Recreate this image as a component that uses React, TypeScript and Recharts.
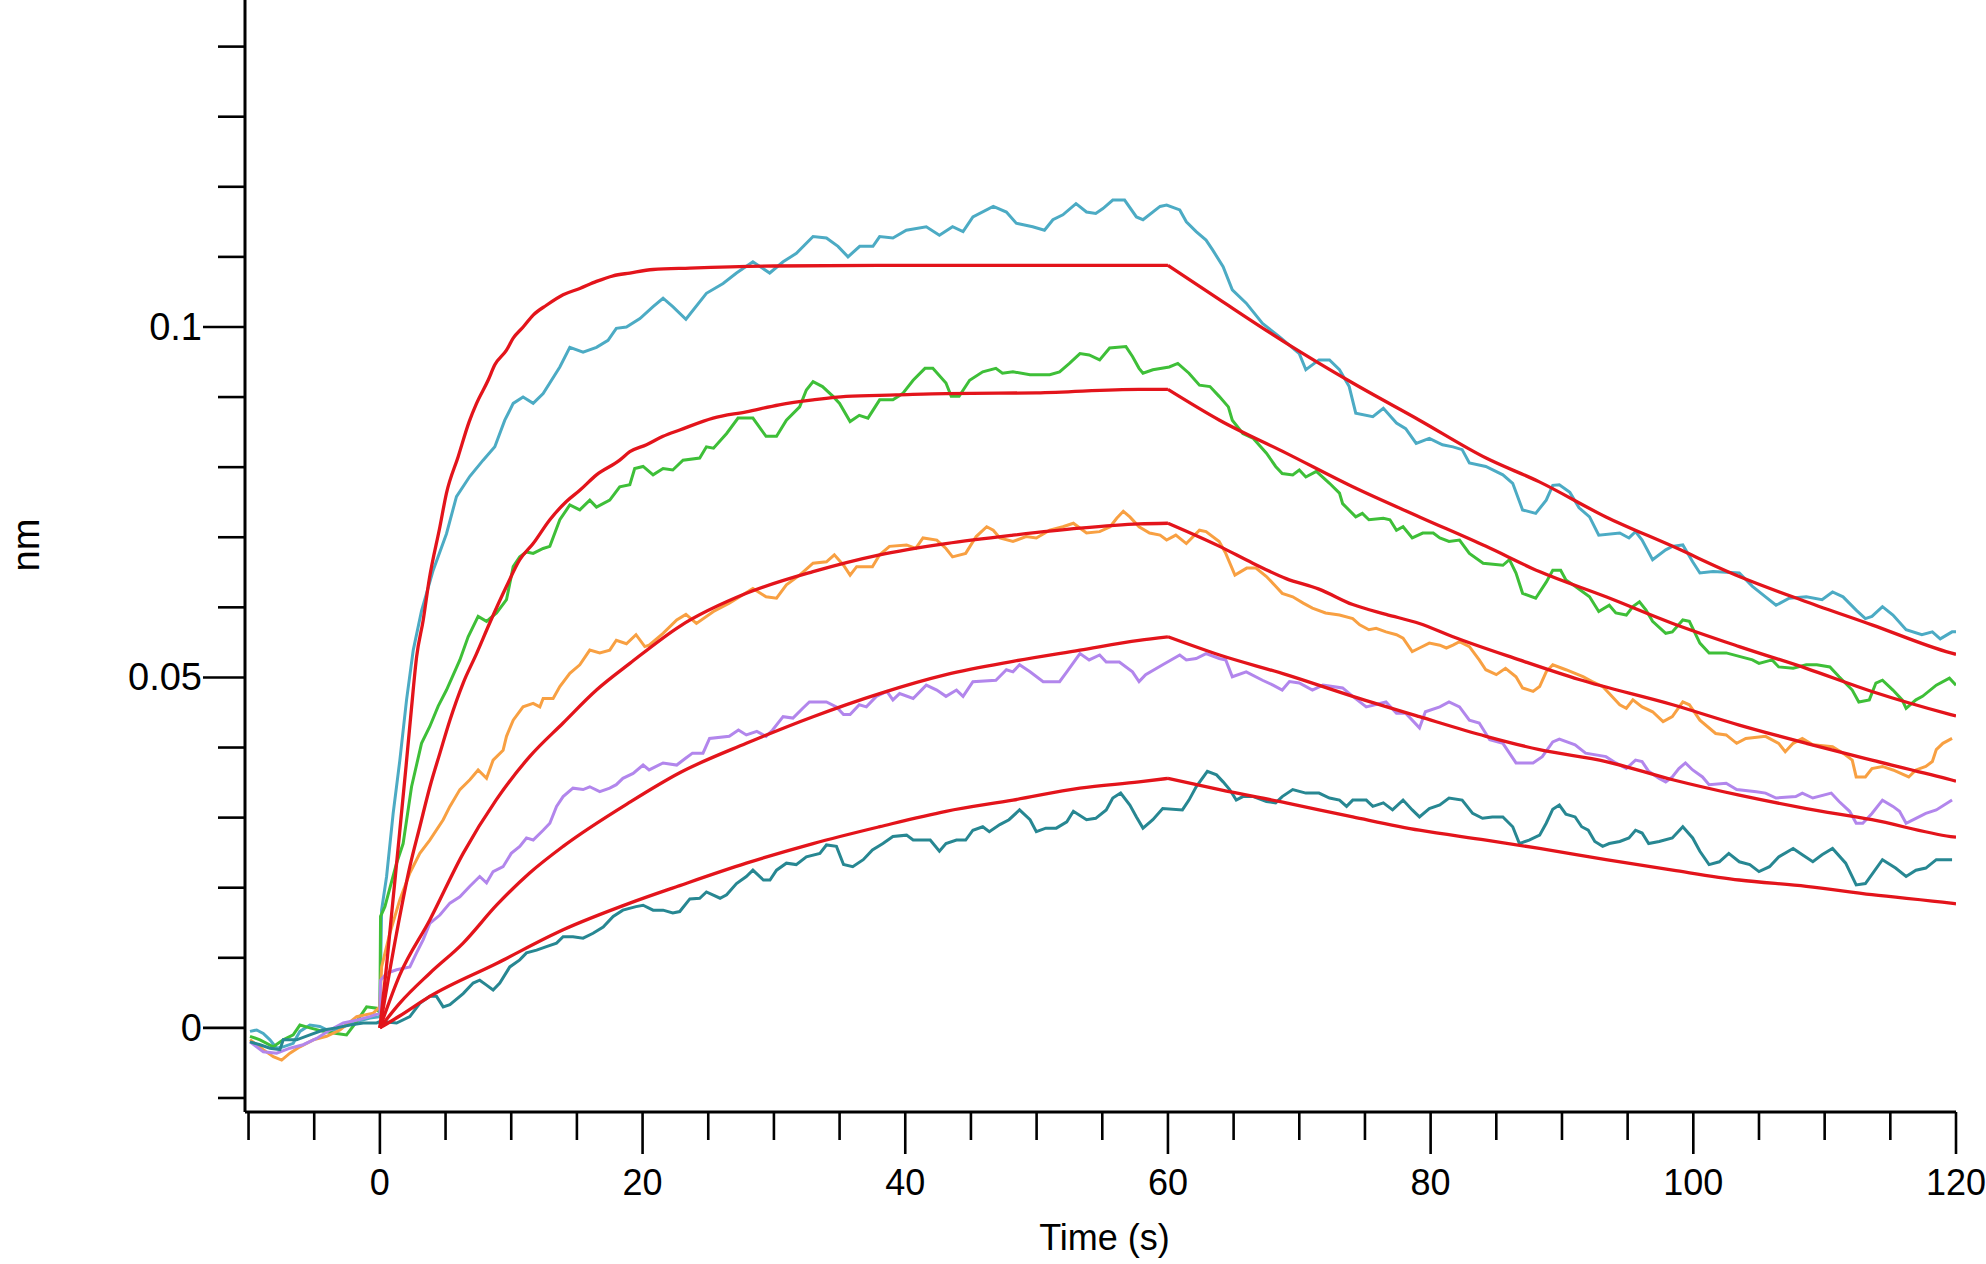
import { LineChart, Line, XAxis, YAxis } from 'recharts';

// time axis (s) and response axis (nm)
const xTicks = [-10, -5, 0, 5, 10, 15, 20, 25, 30, 35, 40, 45, 50, 55, 60, 65, 70, 75, 80, 85, 90, 95, 100, 105, 110, 115, 120];
const yTicks = [-0.01, 0, 0.01, 0.02, 0.03, 0.04, 0.05, 0.06, 0.07, 0.08, 0.09, 0.1, 0.11, 0.12, 0.13, 0.14];
const yLabels: [number, string][] = [[0, '0'], [0.05, '0.05'], [0.1, '0.1']];

// measured sensorgrams, [time, response]
const cyan: [number, number][] = [
  [-9.89, -0.0005], [-9.38, -0.0003], [-8.88, -0.0008], [-8.37, -0.0017], [-7.86, -0.0029], [-7.36, -0.0027], [-6.6, -0.0022],
  [-6.09, -0.0005], [-5.33, 0.0004], [-4.57, 0.0002], [-3.8, -0.0005], [-2.79, 0.0002], [-1.77, 0.0009], [-0.76, 0.0014], [0, 0.0016],
  [0.13, 0.0168], [0.51, 0.0216], [1.01, 0.0306], [1.52, 0.0382], [2.03, 0.0468], [2.54, 0.0539], [3.17, 0.0595], [4.06, 0.0653],
  [5.07, 0.0705], [5.83, 0.0758], [6.85, 0.0787], [7.86, 0.081], [8.75, 0.0829], [9.51, 0.0867], [10.15, 0.0891], [10.9, 0.09],
  [11.67, 0.0891], [12.43, 0.0905], [13.7, 0.0943], [14.46, 0.0971], [15.47, 0.0964], [16.49, 0.0971], [17.37, 0.0981], [18.0, 0.0998],
  [18.77, 0.1], [19.8, 0.1012], [20.8, 0.1029], [21.56, 0.1041], [22.3, 0.1029], [23.3, 0.1011], [24.86, 0.1048], [26.13, 0.1062],
  [27.15, 0.1077], [28.4, 0.1093], [29.68, 0.1077], [30.7, 0.1093], [31.71, 0.1105], [32.98, 0.1129], [34.0, 0.1127], [34.88, 0.1115],
  [35.64, 0.11], [36.53, 0.1115], [37.54, 0.1115], [38.05, 0.1129], [39.06, 0.1127], [40.08, 0.1138], [41.6, 0.1143], [42.6, 0.1131],
  [43.6, 0.1143], [44.4, 0.1136], [45.15, 0.1157], [46.7, 0.1172], [47.7, 0.1164], [48.45, 0.1148], [49.7, 0.1143], [50.6, 0.1138],
  [51.24, 0.1153], [52.0, 0.116], [53.0, 0.1176], [53.8, 0.1164], [54.5, 0.1162], [55.05, 0.1169], [55.8, 0.1181], [56.7, 0.1181],
  [57.6, 0.1157], [58.1, 0.1153], [59.4, 0.1172], [59.9, 0.1174], [60.9, 0.1167], [61.4, 0.115], [62.15, 0.1136], [62.9, 0.1124],
  [63.4, 0.111], [64.2, 0.1086], [64.9, 0.1053], [65.96, 0.1034], [67.2, 0.1005], [68.5, 0.0986], [70.0, 0.0962], [70.5, 0.0939],
  [71.5, 0.0953], [72.3, 0.0953], [73.06, 0.0939], [73.8, 0.0915], [74.3, 0.0877], [75.6, 0.0872], [76.4, 0.0884], [77.4, 0.0863],
  [78.1, 0.0855], [78.9, 0.0834], [79.9, 0.0841], [80.9, 0.0832], [81.7, 0.0829], [82.4, 0.0825], [82.95, 0.0806], [84.2, 0.0801],
  [85.5, 0.0789], [86.25, 0.0777], [87.0, 0.0739], [88.0, 0.0734], [88.8, 0.0753], [89.3, 0.0774], [89.8, 0.0775], [90.6, 0.0764],
  [91.3, 0.0742], [92.1, 0.0729], [92.8, 0.0703], [94.4, 0.0706], [95.1, 0.0699], [95.6, 0.0708], [96.1, 0.0696], [96.9, 0.0668],
  [97.9, 0.0682], [98.4, 0.0687], [99.2, 0.0689], [99.95, 0.0665], [100.5, 0.0649], [101.5, 0.0651], [103.5, 0.0649], [104.5, 0.063],
  [105.5, 0.0615], [106.3, 0.0603], [107.3, 0.0613], [108.6, 0.0615], [109.8, 0.0611], [110.6, 0.0622], [111.4, 0.0615], [112.4, 0.0596],
  [113.1, 0.0584], [113.6, 0.0587], [114.4, 0.0601], [115.2, 0.0589], [116.2, 0.0568], [117.4, 0.0561], [118.2, 0.0565], [118.8, 0.0555],
  [119.7, 0.0565], [120, 0.0565],
];

const green: [number, number][] = [
  [-9.89, -0.0012], [-9.13, -0.0017], [-8.12, -0.0027], [-7.36, -0.0017], [-6.6, -0.001], [-6.09, 0.0004], [-5.33, 0.0], [-4.31, -0.0005],
  [-3.3, -0.0008], [-2.54, -0.001], [-1.77, 0.0009], [-1.01, 0.003], [-0.25, 0.0028], [0, 0.0021],
  [0.05, 0.0159], [0.38, 0.0173], [1.27, 0.0235], [1.77, 0.0263], [2.41, 0.0344], [3.17, 0.0406], [3.8, 0.043], [4.44, 0.0459],
  [5.07, 0.0482], [6.09, 0.0525], [6.72, 0.0558], [7.48, 0.0587], [8.12, 0.058], [8.88, 0.0592], [9.64, 0.0611], [10.15, 0.0658],
  [10.65, 0.0672], [11.16, 0.0679], [11.67, 0.0677], [12.43, 0.0684], [12.94, 0.0687], [13.7, 0.0725], [14.46, 0.0746], [15.22, 0.0739],
  [15.98, 0.0753], [16.49, 0.0743], [17.5, 0.0753], [18.26, 0.0772], [19.03, 0.0775], [19.4, 0.0798], [20.04, 0.0801], [20.8, 0.0789],
  [21.56, 0.0798], [22.3, 0.0796], [23.08, 0.081], [24.35, 0.0813], [24.86, 0.0829], [25.4, 0.0827], [26.4, 0.0848], [27.27, 0.087],
  [28.4, 0.087], [29.4, 0.0844], [30.2, 0.0844], [30.95, 0.0867], [31.96, 0.0886], [32.47, 0.091], [32.98, 0.0922], [33.7, 0.0915],
  [34.5, 0.0901], [35.0, 0.0891], [35.8, 0.0865], [36.5, 0.0874], [37.16, 0.087], [38.05, 0.0896], [39.06, 0.0896], [39.8, 0.0905],
  [40.6, 0.0924], [41.5, 0.0941], [42.1, 0.0941], [43.1, 0.092], [43.5, 0.0901], [44.1, 0.0901], [44.9, 0.0924], [45.9, 0.0936],
  [46.9, 0.0941], [47.4, 0.0934], [48.2, 0.0936], [49.5, 0.0932], [51.0, 0.0932], [51.75, 0.0936], [52.5, 0.0948], [53.3, 0.0962],
  [54.0, 0.096], [54.8, 0.0953], [55.56, 0.097], [56.8, 0.0972], [57.3, 0.0958], [57.8, 0.0941], [58.1, 0.0934], [58.85, 0.0939],
  [60.1, 0.0943], [60.75, 0.0948], [61.6, 0.0934], [62.4, 0.0917], [63.2, 0.0915], [63.9, 0.0901], [64.6, 0.0886], [64.9, 0.0867],
  [65.7, 0.0848], [66.5, 0.0841], [67.5, 0.082], [68.2, 0.0801], [68.7, 0.0791], [69.5, 0.0789], [70.0, 0.0796], [70.5, 0.0786],
  [71.3, 0.0794], [72.3, 0.0777], [73.06, 0.0763], [73.3, 0.0748], [74.3, 0.0729], [74.8, 0.0734], [75.3, 0.0725], [76.4, 0.0727],
  [76.9, 0.0725], [77.4, 0.071], [77.9, 0.0715], [78.6, 0.0699], [79.4, 0.0706], [80.2, 0.0706], [80.7, 0.0699], [81.4, 0.0694],
  [82.2, 0.0696], [82.95, 0.0677], [84.0, 0.0663], [85.5, 0.066], [86.0, 0.0668], [86.5, 0.0649], [87.0, 0.062], [88.0, 0.0613],
  [88.8, 0.0636], [89.3, 0.0653], [89.9, 0.0653], [90.3, 0.0639], [91.0, 0.063], [92.1, 0.0615], [92.8, 0.0594], [93.6, 0.0603],
  [94.1, 0.0592], [94.9, 0.0589], [95.4, 0.0601], [95.9, 0.0608], [96.4, 0.0596], [96.9, 0.058], [97.9, 0.0563], [98.4, 0.0565],
  [99.2, 0.0582], [99.7, 0.058], [100.5, 0.0549], [101.2, 0.0535], [102.5, 0.0535], [103.5, 0.053], [104.5, 0.0525], [105.0, 0.052],
  [106.0, 0.0525], [106.5, 0.0515], [107.6, 0.0513], [108.6, 0.0518], [109.4, 0.0518], [110.4, 0.0515], [111.1, 0.0501], [112.1, 0.0482],
  [112.6, 0.0465], [113.4, 0.0468], [113.9, 0.0492], [114.4, 0.0496], [115.2, 0.0482], [115.9, 0.0468], [116.2, 0.0456], [116.95, 0.0468],
  [117.45, 0.0473], [118.5, 0.0489], [119.5, 0.0499], [120, 0.0489],
];

const orange: [number, number][] = [
  [-9.89, -0.0017], [-8.88, -0.0031], [-8.12, -0.0041], [-7.48, -0.0046], [-6.85, -0.0036], [-6.09, -0.0027], [-5.07, -0.0017],
  [-4.06, -0.0012], [-3.04, -0.0003], [-1.77, 0.0016], [-0.51, 0.0021], [0, 0.003],
  [0.13, 0.0087], [0.76, 0.0135], [1.52, 0.0183], [2.28, 0.0221], [3.04, 0.0249], [3.8, 0.0268], [4.82, 0.0297], [5.33, 0.0316],
  [6.09, 0.034], [6.85, 0.0354], [7.48, 0.0368], [8.12, 0.0356], [8.62, 0.0382], [9.38, 0.0396], [9.64, 0.0416], [10.15, 0.0439],
  [10.9, 0.0458], [11.67, 0.0463], [12.18, 0.0458], [12.43, 0.047], [13.19, 0.047], [13.7, 0.0487], [14.46, 0.0506], [15.22, 0.0518],
  [15.98, 0.0539], [16.74, 0.0535], [17.5, 0.0539], [18.0, 0.0553], [18.77, 0.0548], [19.5, 0.0561], [20.17, 0.0544], [20.5, 0.0546],
  [21.56, 0.0563], [22.6, 0.0582], [23.3, 0.059], [24.1, 0.0577], [25.4, 0.0594], [26.6, 0.0606], [27.4, 0.0615], [28.4, 0.0627],
  [29.4, 0.0615], [30.2, 0.0613], [30.95, 0.0632], [31.96, 0.0646], [32.98, 0.0663], [34.0, 0.0665], [34.6, 0.0675], [35.3, 0.066],
  [35.8, 0.0646], [36.3, 0.0658], [37.5, 0.0658], [38.05, 0.0675], [38.8, 0.0687], [40.1, 0.0689], [40.8, 0.0684], [41.35, 0.0699],
  [42.4, 0.0696], [43.1, 0.0684], [43.6, 0.0672], [44.6, 0.0677], [45.4, 0.0701], [46.2, 0.0715], [46.7, 0.071], [47.2, 0.0699],
  [48.2, 0.0694], [49.2, 0.0701], [49.98, 0.0699], [51.0, 0.071], [52.0, 0.0715], [52.8, 0.072], [53.8, 0.0706], [54.8, 0.0708],
  [55.6, 0.0715], [56.1, 0.0727], [56.6, 0.0737], [57.1, 0.0729], [57.8, 0.0715], [58.6, 0.0706], [59.4, 0.0703], [59.9, 0.0696],
  [60.6, 0.0703], [61.4, 0.0691], [62.4, 0.071], [62.9, 0.0708], [63.9, 0.0694], [64.4, 0.0677], [65.1, 0.0646], [66.0, 0.0656],
  [66.7, 0.0656], [67.5, 0.0644], [68.2, 0.063], [68.7, 0.062], [69.5, 0.0615], [70.3, 0.0606], [71.0, 0.0599], [72.0, 0.0592],
  [73.06, 0.0589], [74.07, 0.0584], [74.6, 0.0575], [75.3, 0.0568], [75.85, 0.057], [76.6, 0.0565], [77.4, 0.0561], [77.9, 0.0556],
  [78.6, 0.0537], [79.15, 0.0542], [79.9, 0.0549], [80.7, 0.0546], [81.2, 0.0542], [81.7, 0.0546], [82.2, 0.0551], [82.95, 0.0544],
  [83.7, 0.0525], [84.2, 0.0511], [85.0, 0.0504], [85.7, 0.0513], [86.5, 0.0501], [87.0, 0.0485], [87.8, 0.048], [88.3, 0.0487],
  [88.8, 0.0508], [89.3, 0.0518], [90.3, 0.0511], [91.6, 0.0501], [92.3, 0.0494], [93.1, 0.0487], [93.6, 0.0477], [94.4, 0.0461],
  [94.9, 0.0456], [95.4, 0.0468], [96.1, 0.0458], [96.9, 0.0451], [97.7, 0.0437], [98.4, 0.0444], [99.2, 0.0465], [99.7, 0.0461],
  [100.5, 0.0439], [101.7, 0.042], [102.5, 0.0418], [103.3, 0.0406], [104.0, 0.0413], [105.5, 0.0416], [106.5, 0.0406], [107.0, 0.0394],
  [107.6, 0.0406], [108.3, 0.0413], [109.1, 0.0404], [110.6, 0.0401], [111.4, 0.0392], [112.1, 0.0382], [112.4, 0.0358], [113.1, 0.0358],
  [113.6, 0.037], [114.4, 0.0373], [115.2, 0.0368], [116.4, 0.0358], [116.95, 0.0368], [117.7, 0.0373], [118.2, 0.038], [118.5, 0.0397],
  [119.0, 0.0406], [119.7, 0.0413],
];

const purple: [number, number][] = [
  [-9.89, -0.002], [-8.88, -0.0034], [-7.86, -0.0036], [-6.85, -0.0029], [-5.84, -0.0024], [-4.82, -0.0015], [-3.8, -0.0003],
  [-2.79, 0.0007], [-1.77, 0.0011], [-0.76, 0.0016], [0, 0.0021],
  [0.05, 0.0068], [0.51, 0.0078], [1.27, 0.0083], [2.28, 0.0087], [2.79, 0.0107], [3.3, 0.0126], [3.8, 0.0149], [4.57, 0.0161],
  [5.33, 0.0178], [6.09, 0.0187], [6.85, 0.0202], [7.6, 0.0216], [8.12, 0.0207], [8.62, 0.0223], [9.38, 0.023], [10.0, 0.0249],
  [10.65, 0.0259], [11.16, 0.0271], [11.67, 0.0268], [12.43, 0.0282], [12.94, 0.0292], [13.45, 0.0316], [13.95, 0.033], [14.7, 0.0342],
  [15.47, 0.034], [15.98, 0.0344], [16.74, 0.0337], [17.5, 0.0342], [18.0, 0.0347], [18.5, 0.0356], [19.28, 0.0363], [20.04, 0.0375],
  [20.5, 0.0368], [21.56, 0.0378], [22.6, 0.0375], [23.3, 0.0385], [23.8, 0.0392], [24.6, 0.0392], [25.1, 0.0413], [26.6, 0.0416],
  [27.3, 0.0425], [27.9, 0.0418], [28.7, 0.0423], [29.4, 0.0416], [29.9, 0.0425], [30.7, 0.0444], [31.45, 0.0442], [32.2, 0.0456],
  [32.7, 0.0465], [34.0, 0.0465], [34.76, 0.0458], [35.3, 0.0447], [35.8, 0.0447], [36.5, 0.0461], [37.04, 0.0458], [37.8, 0.0473],
  [38.6, 0.048], [39.06, 0.0468], [39.57, 0.0477], [40.6, 0.047], [41.6, 0.0489], [42.4, 0.0482], [43.1, 0.0473], [43.9, 0.0482],
  [44.4, 0.0473], [45.15, 0.0494], [46.9, 0.0496], [47.7, 0.0511], [48.2, 0.0508], [48.7, 0.0518], [49.5, 0.0508], [50.5, 0.0494],
  [51.75, 0.0494], [52.3, 0.0508], [53.3, 0.0534], [54.0, 0.0525], [54.8, 0.0532], [55.3, 0.0522], [56.3, 0.0522], [57.3, 0.0508],
  [57.8, 0.0494], [58.3, 0.0504], [59.6, 0.0518], [60.9, 0.0532], [61.4, 0.0525], [62.15, 0.0527], [62.9, 0.0534], [63.9, 0.0527],
  [64.4, 0.0525], [64.9, 0.0501], [65.96, 0.0508], [67.2, 0.0496], [68.0, 0.0489], [68.7, 0.0482], [69.25, 0.0494], [70.0, 0.0492],
  [71.0, 0.0482], [71.8, 0.0489], [73.3, 0.0485], [74.07, 0.0473], [75.1, 0.0458], [76.6, 0.0465], [77.4, 0.0449], [78.1, 0.0449],
  [79.15, 0.0428], [79.6, 0.0451], [80.7, 0.0458], [81.4, 0.0465], [82.2, 0.0458], [82.95, 0.0439], [83.7, 0.0435], [84.5, 0.0411],
  [85.5, 0.0406], [86.5, 0.0378], [87.8, 0.0378], [88.5, 0.0387], [89.3, 0.0408], [89.8, 0.0412], [91.0, 0.0404], [91.8, 0.0392],
  [93.35, 0.0387], [94.1, 0.0378], [94.9, 0.037], [95.6, 0.0382], [96.1, 0.038], [96.6, 0.0366], [97.4, 0.0356], [97.9, 0.0351],
  [98.4, 0.0358], [98.9, 0.037], [99.4, 0.0378], [99.95, 0.0368], [100.7, 0.0358], [101.2, 0.0347], [102.5, 0.0349], [103.3, 0.034],
  [104.8, 0.0337], [105.5, 0.0335], [106.3, 0.0328], [107.8, 0.033], [108.3, 0.0335], [109.1, 0.0328], [110.5, 0.0335], [111.1, 0.0323],
  [111.9, 0.0309], [112.4, 0.0292], [112.9, 0.0292], [113.6, 0.0306], [114.4, 0.0325], [115.2, 0.0316], [115.7, 0.0309], [116.2, 0.0292],
  [116.95, 0.0299], [117.7, 0.0306], [118.5, 0.0311], [119.7, 0.0325],
];

const teal: [number, number][] = [
  [-9.89, -0.002], [-9.13, -0.0024], [-8.37, -0.0029], [-7.61, -0.0031], [-7.36, -0.0017], [-6.34, -0.0017], [-5.33, -0.001],
  [-4.31, -0.0003], [-3.3, 0.0], [-2.28, 0.0004], [-1.27, 0.0007], [-0.25, 0.0007], [0, 0.0009],
  [0.13, 0.0009], [1.27, 0.0007], [2.28, 0.0016], [3.04, 0.0035], [3.8, 0.0045], [4.31, 0.0045], [4.82, 0.003], [5.33, 0.0033],
  [6.34, 0.0049], [7.1, 0.0064], [7.6, 0.0068], [8.12, 0.0061], [8.62, 0.0054], [9.13, 0.0064], [9.89, 0.0087], [10.65, 0.0097],
  [11.16, 0.0107], [11.93, 0.0111], [12.68, 0.0116], [13.45, 0.0121], [13.95, 0.013], [14.7, 0.013], [15.47, 0.0128], [16.23, 0.0135],
  [17.0, 0.0144], [17.76, 0.0159], [18.5, 0.0168], [19.5, 0.0173], [20.04, 0.0175], [20.8, 0.0168], [21.56, 0.0168], [22.3, 0.0164],
  [22.83, 0.0166], [23.6, 0.0184], [24.35, 0.0185], [24.86, 0.0194], [25.9, 0.0185], [26.4, 0.019], [27.15, 0.0206], [27.9, 0.0216],
  [28.4, 0.0225], [29.2, 0.0211], [29.7, 0.0211], [30.2, 0.0225], [30.95, 0.0235], [31.7, 0.0233], [32.47, 0.0244], [33.5, 0.0249],
  [34.0, 0.0261], [34.76, 0.0259], [35.3, 0.0233], [36.0, 0.023], [36.8, 0.024], [37.5, 0.0254], [38.3, 0.0263], [39.06, 0.0273],
  [40.1, 0.0275], [40.6, 0.0268], [41.9, 0.0268], [42.6, 0.0252], [43.1, 0.0263], [43.9, 0.0268], [44.6, 0.0268], [45.15, 0.0282],
  [45.9, 0.0287], [46.4, 0.028], [47.2, 0.029], [47.9, 0.0297], [48.7, 0.0311], [49.5, 0.0297], [49.98, 0.028], [50.7, 0.0285],
  [51.5, 0.0285], [52.3, 0.0294], [52.8, 0.0309], [53.8, 0.0297], [54.5, 0.0299], [55.3, 0.0311], [55.8, 0.0328], [56.4, 0.0335],
  [57.1, 0.0318], [57.6, 0.0301], [58.1, 0.0285], [58.85, 0.0297], [59.6, 0.0313], [61.1, 0.0311], [61.6, 0.0325], [62.15, 0.0344],
  [63.0, 0.0366], [63.7, 0.0361], [64.2, 0.0351], [64.7, 0.034], [65.2, 0.0325], [65.7, 0.033], [66.5, 0.033], [67.5, 0.0323],
  [68.2, 0.0321], [68.7, 0.033], [69.5, 0.034], [70.5, 0.0335], [71.5, 0.0335], [72.3, 0.0328], [73.06, 0.0325], [73.6, 0.0316],
  [74.07, 0.0325], [75.1, 0.0325], [75.6, 0.0316], [76.4, 0.0321], [77.1, 0.0311], [77.9, 0.0325], [78.6, 0.0311], [79.15, 0.0301],
  [79.9, 0.0313], [80.7, 0.0318], [81.4, 0.0328], [82.4, 0.0325], [83.2, 0.0306], [83.95, 0.0299], [84.7, 0.0301], [85.5, 0.0301],
  [86.25, 0.0287], [86.76, 0.0263], [87.5, 0.0268], [88.3, 0.0275], [88.8, 0.0292], [89.3, 0.0312], [89.8, 0.0318], [90.3, 0.0305],
  [91.0, 0.0301], [91.5, 0.0287], [92.0, 0.0282], [92.5, 0.0266], [93.1, 0.0259], [93.6, 0.0263], [94.4, 0.0266], [95.1, 0.0271],
  [95.6, 0.0282], [96.1, 0.0278], [96.6, 0.0263], [97.4, 0.0266], [98.4, 0.0271], [99.2, 0.0287], [99.95, 0.0271], [100.5, 0.0252],
  [101.2, 0.0233], [101.98, 0.0237], [102.7, 0.0249], [103.5, 0.0237], [104.3, 0.0233], [105.0, 0.0223], [105.8, 0.023], [106.5, 0.0244],
  [107.6, 0.0256], [108.3, 0.0247], [109.1, 0.0237], [109.8, 0.0247], [110.6, 0.0256], [111.6, 0.0235], [112.4, 0.0204], [113.1, 0.0206],
  [114.4, 0.024], [115.4, 0.0228], [116.2, 0.0216], [116.95, 0.0225], [117.7, 0.0228], [118.5, 0.024], [119.7, 0.024],
];

// 1:1 fits, association up to 60 s then dissociation
const fitCyan: [number, number][] = [
  [0, 0], [0.5, 0.0087], [1.0, 0.0183], [1.5, 0.0278], [2.0, 0.0375], [2.4, 0.0455], [2.8, 0.053], [3.3, 0.0582], [3.75, 0.0639],
  [4.57, 0.0715], [5.07, 0.0763], [5.96, 0.0815], [6.8, 0.0865], [7.36, 0.0891], [8.24, 0.0924], [8.75, 0.0946], [9.64, 0.0967],
  [10.15, 0.0984], [10.91, 0.1], [11.67, 0.1017], [12.68, 0.1031], [13.95, 0.1046], [15.22, 0.1055], [16.49, 0.1065], [17.76, 0.1073],
  [19.03, 0.1077], [20.8, 0.1082], [23.6, 0.1084], [30, 0.1087], [40, 0.1088], [50, 0.1088], [60, 0.1088],
  [63.93, 0.1039], [69.0, 0.0977], [74.07, 0.092], [79.15, 0.0867], [84.22, 0.0813], [88.28, 0.0779], [93.35, 0.0729], [98.43, 0.0687],
  [103.5, 0.0644], [108.6, 0.0608], [113.6, 0.0575], [119.6, 0.0535], [120, 0.0533],
];
const fitGreen: [number, number][] = [
  [0, 0], [1.27, 0.0135], [2.28, 0.023], [3.04, 0.0287], [3.81, 0.0344], [4.57, 0.0392], [5.33, 0.0439], [6.34, 0.0492], [7.36, 0.0534],
  [8.37, 0.0578], [9.64, 0.063], [10.65, 0.0668], [11.67, 0.0691], [12.94, 0.0725], [14.2, 0.0751], [15.22, 0.0767], [16.49, 0.0789],
  [18.26, 0.081], [19.03, 0.0822], [20.3, 0.0832], [21.56, 0.0844], [22.83, 0.0853], [25.37, 0.087], [27.9, 0.0879], [30.4, 0.0889],
  [32.98, 0.0896], [35.5, 0.0901], [39.3, 0.0903], [43.1, 0.0905], [49.98, 0.0906], [57.8, 0.0911], [60, 0.0911],
  [63.93, 0.0867], [69.0, 0.082], [74.07, 0.0772], [79.15, 0.0729], [84.22, 0.0687], [88.28, 0.0651], [93.35, 0.0615], [98.43, 0.0577],
  [103.5, 0.0544], [108.6, 0.0513], [113.6, 0.048], [119.6, 0.0447], [120, 0.0445],
];
const fitOrange: [number, number][] = [
  [0, 0], [1.5, 0.0075], [3.8, 0.0154], [6.34, 0.0249], [8.88, 0.0326], [11.4, 0.0387], [13.95, 0.0435], [16.49, 0.0482], [19.03, 0.052],
  [22.83, 0.0573], [27.9, 0.062], [32.98, 0.0651], [38.05, 0.0675], [43.1, 0.0691], [48.2, 0.0703], [53.3, 0.0713], [57.8, 0.0719], [60, 0.072],
  [63.93, 0.0687], [66.46, 0.0663], [69.0, 0.0641], [71.5, 0.0626], [74.07, 0.0604], [76.6, 0.059], [79.15, 0.0577], [81.7, 0.0558],
  [86.76, 0.0525], [91.3, 0.0497], [98.43, 0.0461], [103.5, 0.0432], [108.6, 0.0406], [113.6, 0.0382], [119.6, 0.0354], [120, 0.0352],
];
const fitPurple: [number, number][] = [
  [0, 0], [1.5, 0.0035], [3.8, 0.0078], [6.34, 0.0121], [8.88, 0.0175], [11.4, 0.0221], [13.95, 0.0259], [19.03, 0.0322], [22.83, 0.0364],
  [27.9, 0.0406], [32.98, 0.0444], [38.05, 0.0477], [43.1, 0.0504], [48.2, 0.0523], [53.3, 0.0539], [57.8, 0.0553], [60, 0.0558],
  [63.93, 0.0532], [69.0, 0.0504], [74.07, 0.0473], [79.15, 0.0444], [84.22, 0.0416], [88.28, 0.0397], [93.35, 0.038], [98.43, 0.0354],
  [103.5, 0.0332], [108.6, 0.0313], [113.6, 0.0297], [119.6, 0.0273], [120, 0.0272],
];
const fitTeal: [number, number][] = [
  [0, 0], [1.5, 0.0017], [3.8, 0.0045], [8.88, 0.0092], [13.95, 0.014], [19.03, 0.0178], [22.83, 0.0203], [27.9, 0.0235], [32.98, 0.0263],
  [38.05, 0.0287], [43.1, 0.0309], [48.2, 0.0325], [53.3, 0.0342], [57.8, 0.0351], [60, 0.0356],
  [63.93, 0.034], [69.0, 0.0321], [74.07, 0.0301], [79.15, 0.0282], [84.22, 0.0268], [88.28, 0.0256], [93.35, 0.024], [98.43, 0.0225],
  [103.5, 0.0211], [108.6, 0.0202], [113.6, 0.019], [119.6, 0.0178], [120, 0.0177],
];

const traces = [
  { name: 'cyan', color: '#4cabc4', pts: cyan },
  { name: 'green', color: '#3ebf38', pts: green },
  { name: 'orange', color: '#f8a042', pts: orange },
  { name: 'purple', color: '#b286ec', pts: purple },
  { name: 'teal', color: '#278792', pts: teal },
];
const fits = [fitCyan, fitGreen, fitOrange, fitPurple, fitTeal];
const FIT_RED = '#e3141b';
const FONT = "'Liberation Sans', Arial, sans-serif";

const toRows = (arr: [number, number][]) => arr.map(([t, v]) => ({ t, v }));

const XTick = ({ x, y, payload }: any) => {
  const v = payload.value as number;
  const major = v % 20 === 0;
  return (
    <g>
      <line x1={x} y1={y} x2={x} y2={y + (major ? 42 : 28)} stroke="#000" strokeWidth={2.6} />
      {major && (
        <text x={x} y={y + 83} textAnchor="middle" fontSize={36} fontFamily={FONT} fill="#000">
          {v}
        </text>
      )}
    </g>
  );
};

const YTick = ({ x, y, payload }: any) => {
  const v = payload.value as number;
  const lab = yLabels.find(([val]) => Math.abs(val - v) < 1e-9);
  return (
    <g>
      <line x1={x - (lab ? 42 : 27)} y1={y} x2={x} y2={y} stroke="#000" strokeWidth={2.6} />
      {lab && (
        <text x={x - 43} y={y + 13} textAnchor="end" fontSize={38} fontFamily={FONT} fill="#000">
          {lab[1]}
        </text>
      )}
    </g>
  );
};

export default function App() {
  return (
    <div style={{ position: 'absolute', left: 0, top: 0, width: 1986, height: 1264, overflow: 'hidden', background: '#fff' }}>
      <LineChart width={1986} height={1264} margin={{ top: 0, right: 30, bottom: 0, left: 0 }}>
        <XAxis
          dataKey="t"
          type="number"
          domain={[-10.27, 120]}
          allowDataOverflow
          ticks={xTicks}
          interval={0}
          height={152}
          tickSize={0}
          tickMargin={0}
          tickLine={false}
          axisLine={{ stroke: '#000', strokeWidth: 3 }}
          tick={<XTick />}
          label={({ viewBox }: any) => (
            <text x={viewBox.x + viewBox.width / 2 + 4} y={viewBox.y + 138} textAnchor="middle" fontSize={36} fontFamily={FONT} fill="#000">
              Time (s)
            </text>
          )}
        />
        <YAxis
          type="number"
          domain={[-0.012, 0.14665]}
          allowDataOverflow
          ticks={yTicks}
          interval={0}
          width={245}
          tickSize={0}
          tickMargin={0}
          tickLine={false}
          axisLine={{ stroke: '#000', strokeWidth: 3 }}
          tick={<YTick />}
          label={({ viewBox }: any) => (
            <text
              x={viewBox.x + 39}
              y={viewBox.y + 545}
              transform={`rotate(-90, ${viewBox.x + 39}, ${viewBox.y + 545})`}
              textAnchor="middle"
              fontSize={38}
              fontFamily={FONT}
              fill="#000"
            >
              nm
            </text>
          )}
        />
        {traces.map((s) => (
          <Line
            key={s.name}
            data={toRows(s.pts)}
            dataKey="v"
            type="linear"
            stroke={s.color}
            strokeWidth={3}
            dot={false}
            activeDot={false}
            isAnimationActive={false}
          />
        ))}
        {fits.map((f, i) => (
          <Line
            key={`fa${i}`}
            data={toRows(f.filter(([t]) => t <= 60))}
            dataKey="v"
            type="monotone"
            stroke={FIT_RED}
            strokeWidth={3.3}
            dot={false}
            activeDot={false}
            isAnimationActive={false}
          />
        ))}
        {fits.map((f, i) => (
          <Line
            key={`fd${i}`}
            data={toRows(f.filter(([t]) => t >= 60))}
            dataKey="v"
            type="monotone"
            stroke={FIT_RED}
            strokeWidth={3.3}
            dot={false}
            activeDot={false}
            isAnimationActive={false}
          />
        ))}
      </LineChart>
    </div>
  );
}
